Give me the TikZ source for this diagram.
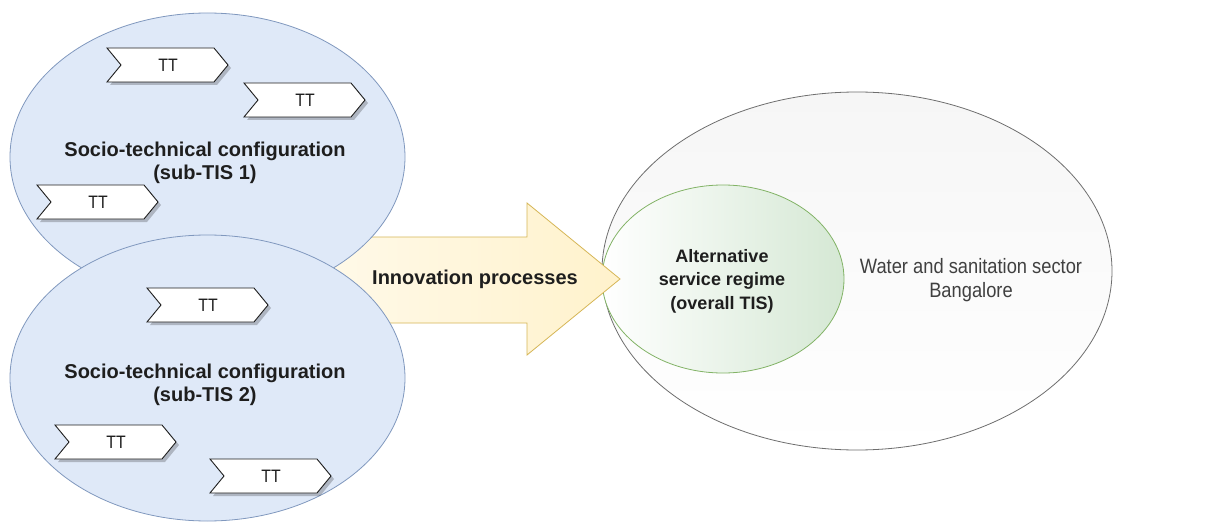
\documentclass[tikz,border=0pt]{standalone}
\usepackage{fontspec}
\setmainfont{Liberation Sans}
\newfontfamily\narrowsans[FakeStretch=0.88]{Liberation Sans}
\usetikzlibrary{shapes.geometric}

\definecolor{tisfill}{HTML}{DFE9F8}
\definecolor{tisline}{HTML}{8098BE}
\definecolor{regfill}{HTML}{D5E8D4}
\definecolor{regline}{HTML}{82B366}
\definecolor{secfill}{HTML}{F6F6F6}
\definecolor{secline}{HTML}{6E6E6E}
\definecolor{arrfill}{HTML}{FFF2CC}
\definecolor{arrline}{HTML}{D6B656}
\definecolor{ink}{HTML}{1E1E1E}

\tikzset{
  region/.style={ellipse, inner sep=0pt, line width=0.8pt},
  tis/.style={region, draw=tisline, fill=tisfill, minimum width=395, minimum height=288},
  sector/.style={region, draw=secline, top color=secfill, bottom color=white,
                 minimum width=510, minimum height=358},
  regime/.style={region, draw=regline, left color=white, right color=regfill,
                 minimum width=242, minimum height=188},
  flowarrow/.style={draw=arrline, left color=arrfill!45, right color=arrfill, line width=0.8pt, line join=miter},
  ttshape/.style={draw=ink, fill=white, line width=0.9pt, line join=miter},
  ttshadow/.style={fill=black, opacity=0.22},
  ttlabel/.style={font=\narrowsans\fontsize{18}{20}\selectfont, text=ink, inner sep=0pt},
  boldlabel/.style={font=\bfseries\fontsize{20}{23}\selectfont, text=ink, align=center},
  regimelabel/.style={font=\bfseries\fontsize{18}{23.5}\selectfont, text=ink, align=center},
  sectorlabel/.style={font=\narrowsans\fontsize{20.8}{24}\selectfont, text=ink!85, align=center},
}

% one "TT" chevron: name, left x, top y
\newcommand\ttchevron[3]{%
  \begin{scope}[shift={(#2,#3)}]
    \fill[ttshadow] (3,3) -- (110,3) -- (124,20) -- (110,37) -- (3,37) -- (17,20) -- cycle;
    \draw[ttshape] (0,0) -- (107,0) -- (121,17) -- (107,34) -- (0,34) -- (14,17) -- cycle;
    \node[ttlabel] (#1) at (61,17) {TT};
  \end{scope}}

\begin{document}
\begin{tikzpicture}[x=1pt, y=-1pt]
  \useasboundingbox[fill=white] (0,0) rectangle (1216,524);

  % sector and the alternative regime inside it
  \node[sector] (sector) at (857,271) {};
  \node[regime] (regime) at (723,279) {};

  % innovation processes arrow (its tail runs under the sub-TIS ellipses)
  \coordinate (tailtop) at (330,237);
  \coordinate (tailbot) at (330,323);
  \coordinate (tip) at (620,279);
  \path[flowarrow] (tailtop) -- (527,237) -- (527,203) -- (tip) -- (527,355) -- (527,323) -- (tailbot) -- cycle;

  % the two socio-technical configurations
  \node[tis] (tis1) at (207.5,157) {};
  \node[tis, minimum height=286] (tis2) at (207.5,378) {};

  % technology trajectories
  \ttchevron{tt1}{107}{48}
  \ttchevron{tt2}{244}{83}
  \ttchevron{tt3}{37}{185}
  \ttchevron{tt4}{147}{288}
  \ttchevron{tt5}{55}{425}
  \ttchevron{tt6}{210}{459}

  % labels
  \node[boldlabel] (lab1) at (205,163) {Socio-technical configuration\\(sub-TIS 1)};
  \node[boldlabel] (lab2) at (205,385) {Socio-technical configuration\\(sub-TIS 2)};
  \node[boldlabel] (labarrow) at (475,279) {Innovation processes};
  \node[regimelabel] (labregime) at (722,281) {Alternative\\service regime\\(overall TIS)};
  \node[sectorlabel] (labsector) at (971,280) {Water and sanitation sector\\Bangalore};
\end{tikzpicture}
\end{document}
